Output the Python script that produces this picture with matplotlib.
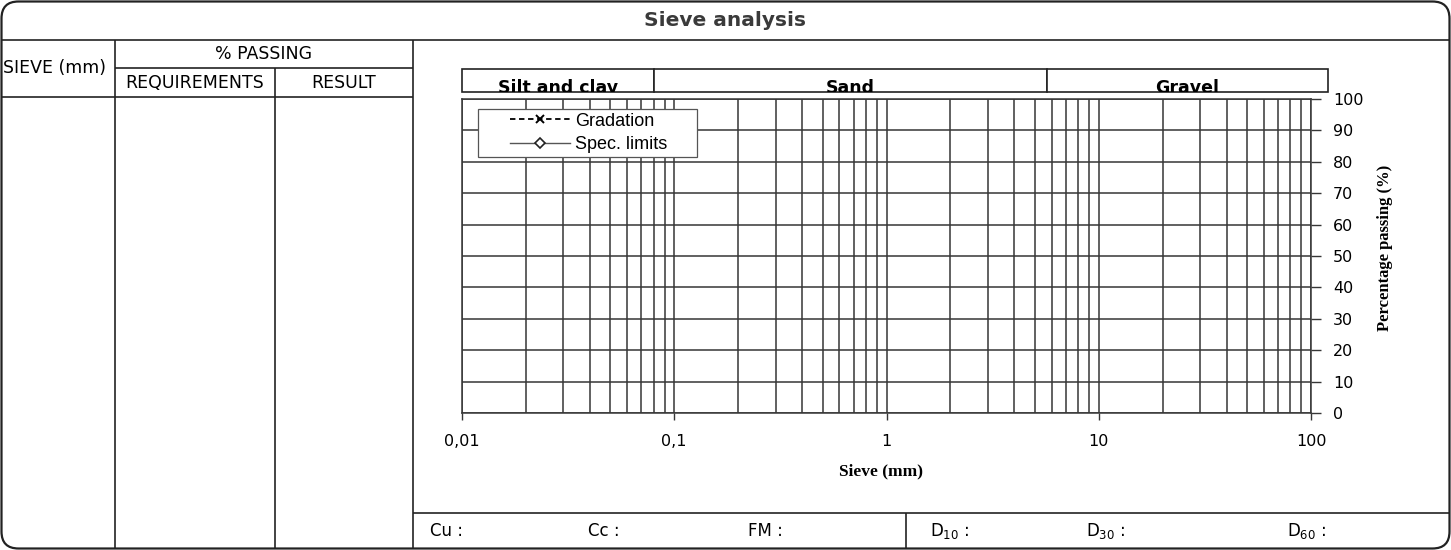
import matplotlib
matplotlib.use("Agg")
import matplotlib.pyplot as plt
from matplotlib.patches import FancyBboxPatch, Rectangle
from matplotlib.ticker import FixedLocator, LogLocator, NullFormatter
import matplotlib.transforms as mtransforms
import numpy as np

# ---- sheet data (empty form) ----
sieve_sizes_mm = []
requirements = []
results = []
gradation_size_mm = []
gradation_passing = []
spec_size_mm = []
spec_passing = []

soil_classes = ["Silt and clay", "Sand", "Gravel"]
class_bounds_mm = [0.01, 0.08, 5.7, 120]

x_ticks = [0.01, 0.1, 1, 10, 100]
x_tick_labels = ["0,01", "0,1", "1", "10", "100"]
y_ticks = list(range(0, 101, 10))

table_headers = ["SIEVE (mm)", "% PASSING", "REQUIREMENTS", "RESULT"]
summary_labels = ["Cu :", "Cc :", "FM :", "D$_{10}$ :", "D$_{30}$ :", "D$_{60}$ :"]

# ---- figure / sheet frame (pixel coordinates) ----
W, H = 1451, 550
LINE = "#222222"
GRID = "#363636"
SANS = "DejaVu Sans"
SERIF = "Liberation Serif"

fig = plt.figure(figsize=(W / 100, H / 100), dpi=100)
bg = fig.add_axes([0, 0, 1, 1])
bg.set_xlim(0, W)
bg.set_ylim(H, 0)
bg.axis("off")

frame = FancyBboxPatch((1.5, 1.5), W - 3, H - 3,
                       boxstyle="round,pad=0,rounding_size=17",
                       fc="white", ec=LINE, lw=1.6)
bg.add_patch(frame)


def hline(y, x0, x1, lw=1.2):
    bg.plot([x0, x1], [y, y], color=LINE, lw=lw, solid_capstyle="butt")


def vline(x, y0, y1, lw=1.2):
    bg.plot([x, x], [y0, y1], color=LINE, lw=lw, solid_capstyle="butt")


# title row
hline(40, 1.5, W - 1.5)
bg.text(725, 21, "Sieve analysis", ha="center", va="center",
        fontsize=14.5, fontweight="bold", color="#3a3a3a", family=SANS)

# left table
vline(115, 40, H - 1.5)
vline(275, 68, H - 1.5)
vline(413, 40, H - 1.5)
hline(68, 115, 413)
hline(97, 1.5, 413)
bg.text(3, 68, table_headers[0], ha="left", va="center", fontsize=12.5, family=SANS)
bg.text(264, 54, table_headers[1], ha="center", va="center", fontsize=12.5, family=SANS)
bg.text(195, 83, table_headers[2], ha="center", va="center", fontsize=12.5, family=SANS)
bg.text(344, 83, table_headers[3], ha="center", va="center", fontsize=12.5, family=SANS)

# summary row
hline(513, 413, W - 1.5)
vline(906, 513, H - 1.5)
summary_x = [430, 588, 748, 930, 1086, 1287]
for sx, lab in zip(summary_x, summary_labels):
    bg.text(sx, 531, lab, ha="left", va="center", fontsize=12, family=SANS)

# ---- grading chart ----
ax = fig.add_axes([462 / W, 1 - 413 / H, 849 / W, 314 / H])
ax.set_xscale("log")
ax.set_xlim(x_ticks[0], x_ticks[-1])
ax.set_ylim(y_ticks[0], y_ticks[-1])

ax.plot(gradation_size_mm, gradation_passing, color="black", lw=1.3,
        ls=(0, (3, 2)), marker="x", ms=6, mew=1.4, label="Gradation")
ax.plot(spec_size_mm, spec_passing, color="#555555", lw=1.0, ls="-",
        marker="D", ms=5, mfc="white", mec="#222222", mew=1.2,
        label="Spec. limits")

ax.xaxis.set_major_locator(FixedLocator(x_ticks))
ax.set_xticklabels(x_tick_labels)
ax.xaxis.set_minor_locator(LogLocator(base=10, subs=np.arange(2, 10), numticks=20))
ax.xaxis.set_minor_formatter(NullFormatter())
ax.set_yticks(y_ticks)

ax.grid(which="both", axis="x", color=GRID, lw=1.1)
ax.grid(which="major", axis="y", color=GRID, lw=1.1)
ax.set_axisbelow(True)

ax.tick_params(axis="x", which="minor", length=0)
ax.tick_params(axis="x", which="major", direction="out", length=5, width=1,
               color=GRID, pad=10, labelsize=11.5)
ax.yaxis.tick_right()
ax.yaxis.set_label_position("right")
ax.tick_params(axis="y", direction="out", length=7, width=1, color=GRID,
               pad=9, labelsize=11.5)
for lab in ax.get_xticklabels() + ax.get_yticklabels():
    lab.set_family(SANS)

for s in ax.spines.values():
    s.set_color(GRID)
    s.set_linewidth(1.1)

ax.set_xlabel("Sieve (mm)", family=SERIF, fontweight="bold", fontsize=12.5)
ax.xaxis.set_label_coords((881 - 462) / 849, -(463 - 413) / 314)
ax.set_ylabel("Percentage passing (%)", family=SERIF, fontweight="bold", fontsize=12)
ax.yaxis.set_label_coords((1377 - 462) / 849, (413 - 248) / 314)

# soil class band above the chart
band = mtransforms.blended_transform_factory(ax.transData, ax.transAxes)
y_bot, y_top = (413 - 92) / 314, (413 - 69) / 314
for name, lo, hi in zip(soil_classes, class_bounds_mm[:-1], class_bounds_mm[1:]):
    r = Rectangle((lo, y_bot), hi - lo, y_top - y_bot, transform=band,
                  fc="white", ec=LINE, lw=1.2, clip_on=False)
    ax.add_patch(r)
    t = ax.text(np.sqrt(lo * hi), y_bot - 0.003, name, transform=band,
                ha="center", va="baseline", fontsize=12.5, fontweight="bold",
                family=SANS, clip_on=True)
    t.set_clip_path(r)

# legend box
leg_box = Rectangle(((478 - 462) / 849, (413 - 157) / 314), 219 / 849, 48 / 314,
                    transform=ax.transAxes, fc="white", ec="#555555", lw=0.9,
                    zorder=4)
ax.add_patch(leg_box)
leg = ax.legend(loc="center left", bbox_to_anchor=((510 - 462) / 849, (413 - 133) / 314),
                borderaxespad=0, borderpad=0, frameon=False, handlelength=3.3,
                handletextpad=0.28, labelspacing=0.38, numpoints=1,
                prop={"family": "Liberation Sans", "size": 13})
leg.set_zorder(5)

fig.savefig("out.png", dpi=100)
